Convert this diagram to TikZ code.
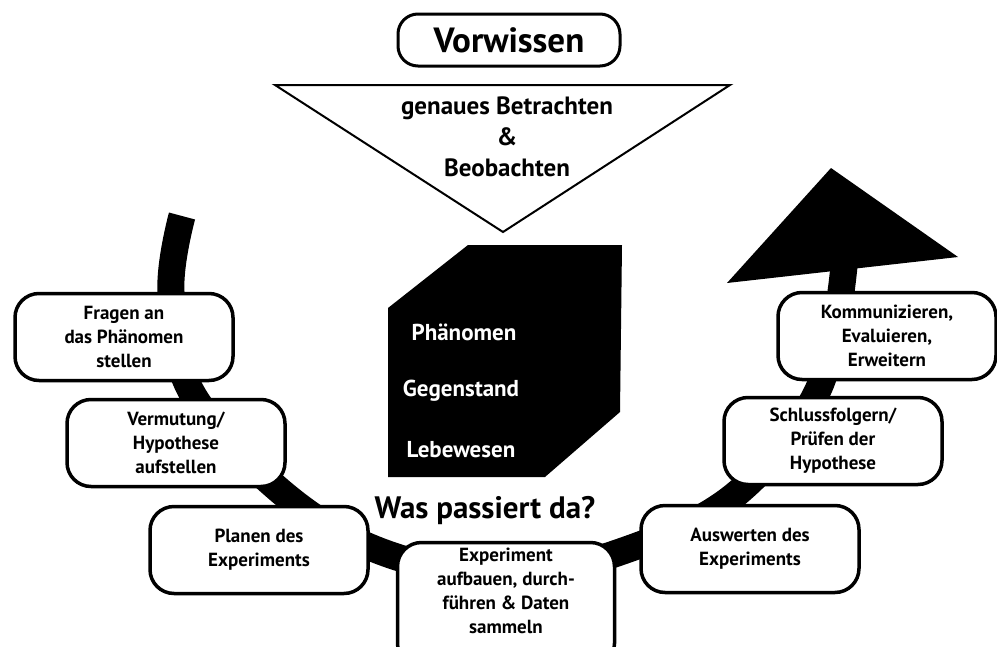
\documentclass[tikz,border=0pt]{standalone}
\usepackage{fontspec}
\setmainfont{PT Sans}
\usetikzlibrary{positioning,calc}

\begin{document}
\begin{tikzpicture}[x=1pt, y=-1pt,
    stepbox/.style={draw, line width=3.5pt, rounded corners=24pt, fill=white,
        minimum width=218pt, minimum height=87pt, inner sep=2pt, align=center,
        font=\fontsize{19}{24}\selectfont\bfseries},
    cubetext/.style={text=white, font=\fontsize{23}{25}\selectfont\bfseries}]
    \clip (0,0) rectangle (997,646);
    \useasboundingbox (0,0) rectangle (997,646);

    % Band
    \draw[line width=27pt, line cap=butt] plot[smooth, tension=0.6] coordinates {
        (182,216) (171,292) (192,393) (285,495) (385,553) (505,575)
        (620,552) (735,495) (818,390) (844,266)};
    \fill (727,283) -- (831,168) -- (958,257) -- cycle;

    % Top
    \node[draw, line width=3pt, rounded corners=20pt, minimum width=222pt,
        minimum height=52pt, font=\fontsize{35}{36}\selectfont\bfseries] (vorwissen) at (509,40) {Vorwissen};
    \draw[line width=2pt, line join=miter] (275,85) -- (730,85) -- (503,232) -- cycle;
    \node[align=center, font=\fontsize{25}{31}\selectfont\bfseries] (betrachten) at (507,137)
        {genaues Betrachten\\\&\\Beobachten};

    % Cube
    \fill (388,308) -- (468,245) -- (622,245) -- (620,412) -- (545,477) -- (388,477) -- cycle;
    \node[cubetext] (phaenomen) at (464,332) {Phänomen};
    \node[cubetext] (gegenstand) at (461,391) {Gegenstand};
    \node[cubetext] (lebewesen) at (461,450) {Lebewesen};
    \node[font=\fontsize{31}{33}\selectfont\bfseries] (frage) at (485,511) {Was passiert da?};

    % Left branch
    \node[stepbox] (fragen) at (124,337) {Fragen an\\das Phänomen\\stellen};
    \node[stepbox] (vermutung) at (176,443) {Vermutung/\\Hypothese\\aufstellen};
    \node[stepbox] (planen) at (259,550) {Planen des\\Experiments};

    % Bottom
    \node[stepbox, minimum width=217pt, minimum height=125pt, text depth=28pt] (experiment) at (506,605)
        {Experiment\\aufbauen, durch-\\führen \& Daten\\sammeln};

    % Right branch
    \node[stepbox] (auswerten) at (750,549) {Auswerten des\\Experiments};
    \node[stepbox] (schluss) at (833,441) {Schlussfolgern/\\Prüfen der\\Hypothese};
    \node[stepbox] (kommunizieren) at (887,336) {Kommunizieren,\\Evaluieren,\\Erweitern};
\end{tikzpicture}
\end{document}
